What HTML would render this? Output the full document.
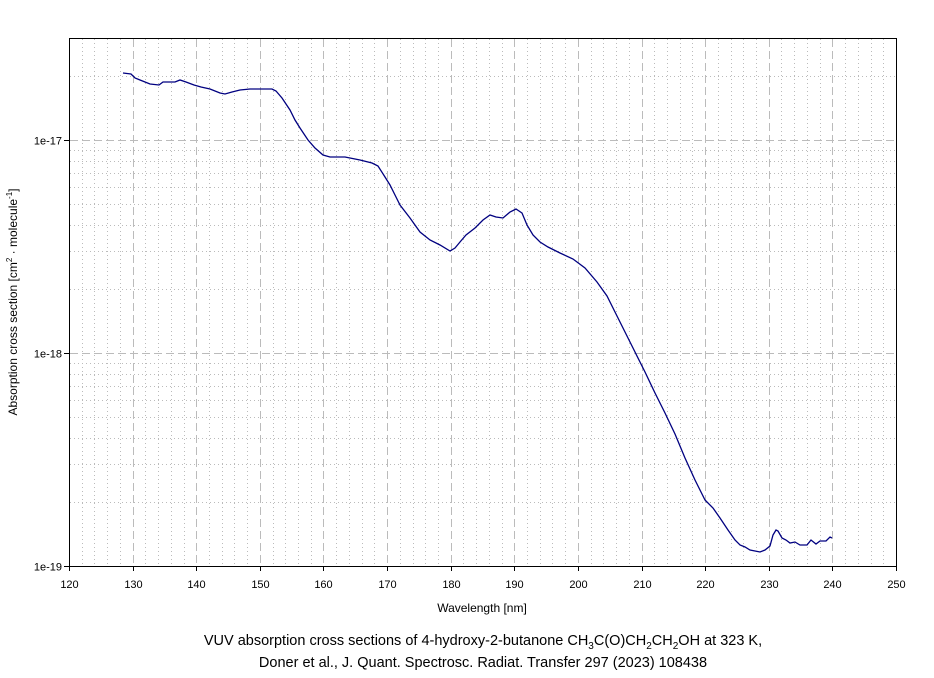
<!DOCTYPE html>
<html><head><meta charset="utf-8"><style>
body{margin:0;background:#fff;width:934px;height:673px;overflow:hidden;font-family:"Liberation Sans",Arial,sans-serif}
</style></head><body>
<svg id="s" width="934" height="673" xmlns="http://www.w3.org/2000/svg" font-family="Liberation Sans, Arial, sans-serif">
<g id="grid"></g>
<polyline fill="none" stroke="#000080" stroke-width="1.3" points="123,73 131,74 135,78 140,80 150,84 159,85 163,82 170,82 175,82 180,80 186,82 194,85 201,87 210,89 220,93 225,94 232,92 240,90 250,89 260,89 272,89 276,91 282,98 290,110 295,120 300,128 308,140 315,148 323,155 330,157 345,157 360,160 372,163 378,166 385,177 390,185 395,195 400,205 410,218 420,232 430,240 440,245 450,251 455,248 460,242 466,235 475,228 483,220 490,215 496,217 503,218 510,212 516,209 522,213 527,225 533,235 540,242 548,247 560,253 573,259 585,268 597,282 607,296 615,312 625,332 635,352 645,372 655,393 665,413 675,434 685,458 695,480 705,500 713,508 720,518 728,530 735,540 740,545 745,547 750,550 755,551 760,552 765,550 770,546 773,535 776,530 778,531 782,538 786,540 790,543 795,542 800,545 807,545 811,540 816,544 820,541 826,541 830,537 832,538"/>
<rect x="69.5" y="38.5" width="827" height="528" fill="none" stroke="#000" stroke-width="1"/>
<g id="ticks" font-size="11" fill="#000"></g>
<text x="482" y="612" font-size="12" text-anchor="middle">Wavelength [nm]</text>
<text transform="translate(17,302) rotate(-90)" font-size="12" text-anchor="middle">Absorption cross section [cm<tspan font-size="8" dy="-5">2</tspan><tspan dy="5"> · molecule</tspan><tspan font-size="8" dy="-5">-1</tspan><tspan dy="5">]</tspan></text>
<text x="483" y="645" font-size="14.5" text-anchor="middle">VUV absorption cross sections of 4-hydroxy-2-butanone CH<tspan font-size="10" dy="4">3</tspan><tspan dy="-4">C(O)CH</tspan><tspan font-size="10" dy="4">2</tspan><tspan dy="-4">CH</tspan><tspan font-size="10" dy="4">2</tspan><tspan dy="-4">OH at 323 K,</tspan></text>
<text x="483" y="667" font-size="14.5" text-anchor="middle">Doner et al., J. Quant. Spectrosc. Radiat. Transfer 297 (2023) 108438</text>
</svg>
<script>
var ns="http://www.w3.org/2000/svg",g=document.getElementById("grid"),t=document.getElementById("ticks");
function L(p,x1,y1,x2,y2,st,da){var l=document.createElementNS(ns,"line");l.setAttribute("x1",x1);l.setAttribute("y1",y1);l.setAttribute("x2",x2);l.setAttribute("y2",y2);l.setAttribute("stroke",st);if(da)l.setAttribute("stroke-dasharray",da);p.appendChild(l);}
function T(x,y,s,a){var e=document.createElementNS(ns,"text");e.setAttribute("x",x);e.setAttribute("y",y);e.setAttribute("text-anchor",a);e.textContent=s;t.appendChild(e);}
function X(n){return 69+827*(n-120)/130;}
for(var n=122;n<250;n+=2){var x=Math.round(X(n))+.5;if(n%10==0)L(g,x,39,x,566,"#bbb","8,4");else L(g,x,39,x,566,"#bbb","1,3");}
function Y(v){return 566-213*(Math.log10(v)+19);}
for(var d=-19;d<=-17;d++)for(var k=1;k<10;k++){var y=Math.round(Y(k*Math.pow(10,d)))+.5;if(y<39||y>=566)continue;L(g,70,y,896,y,"#bbb",k==1?"8,4":"1,3");}
for(var n=120;n<=250;n+=10){var x=Math.round(X(n))+.5;L(t,x,566,x,571,"#000");T(x,588,String(n),"middle");}
[[-19,"1e-19"],[-18,"1e-18"],[-17,"1e-17"]].forEach(function(a){var y=Math.round(Y(Math.pow(10,a[0])))+.5;L(t,64,y,69,y,"#000");T(62,y+4,a[1],"end");});
</script>
</body></html>
